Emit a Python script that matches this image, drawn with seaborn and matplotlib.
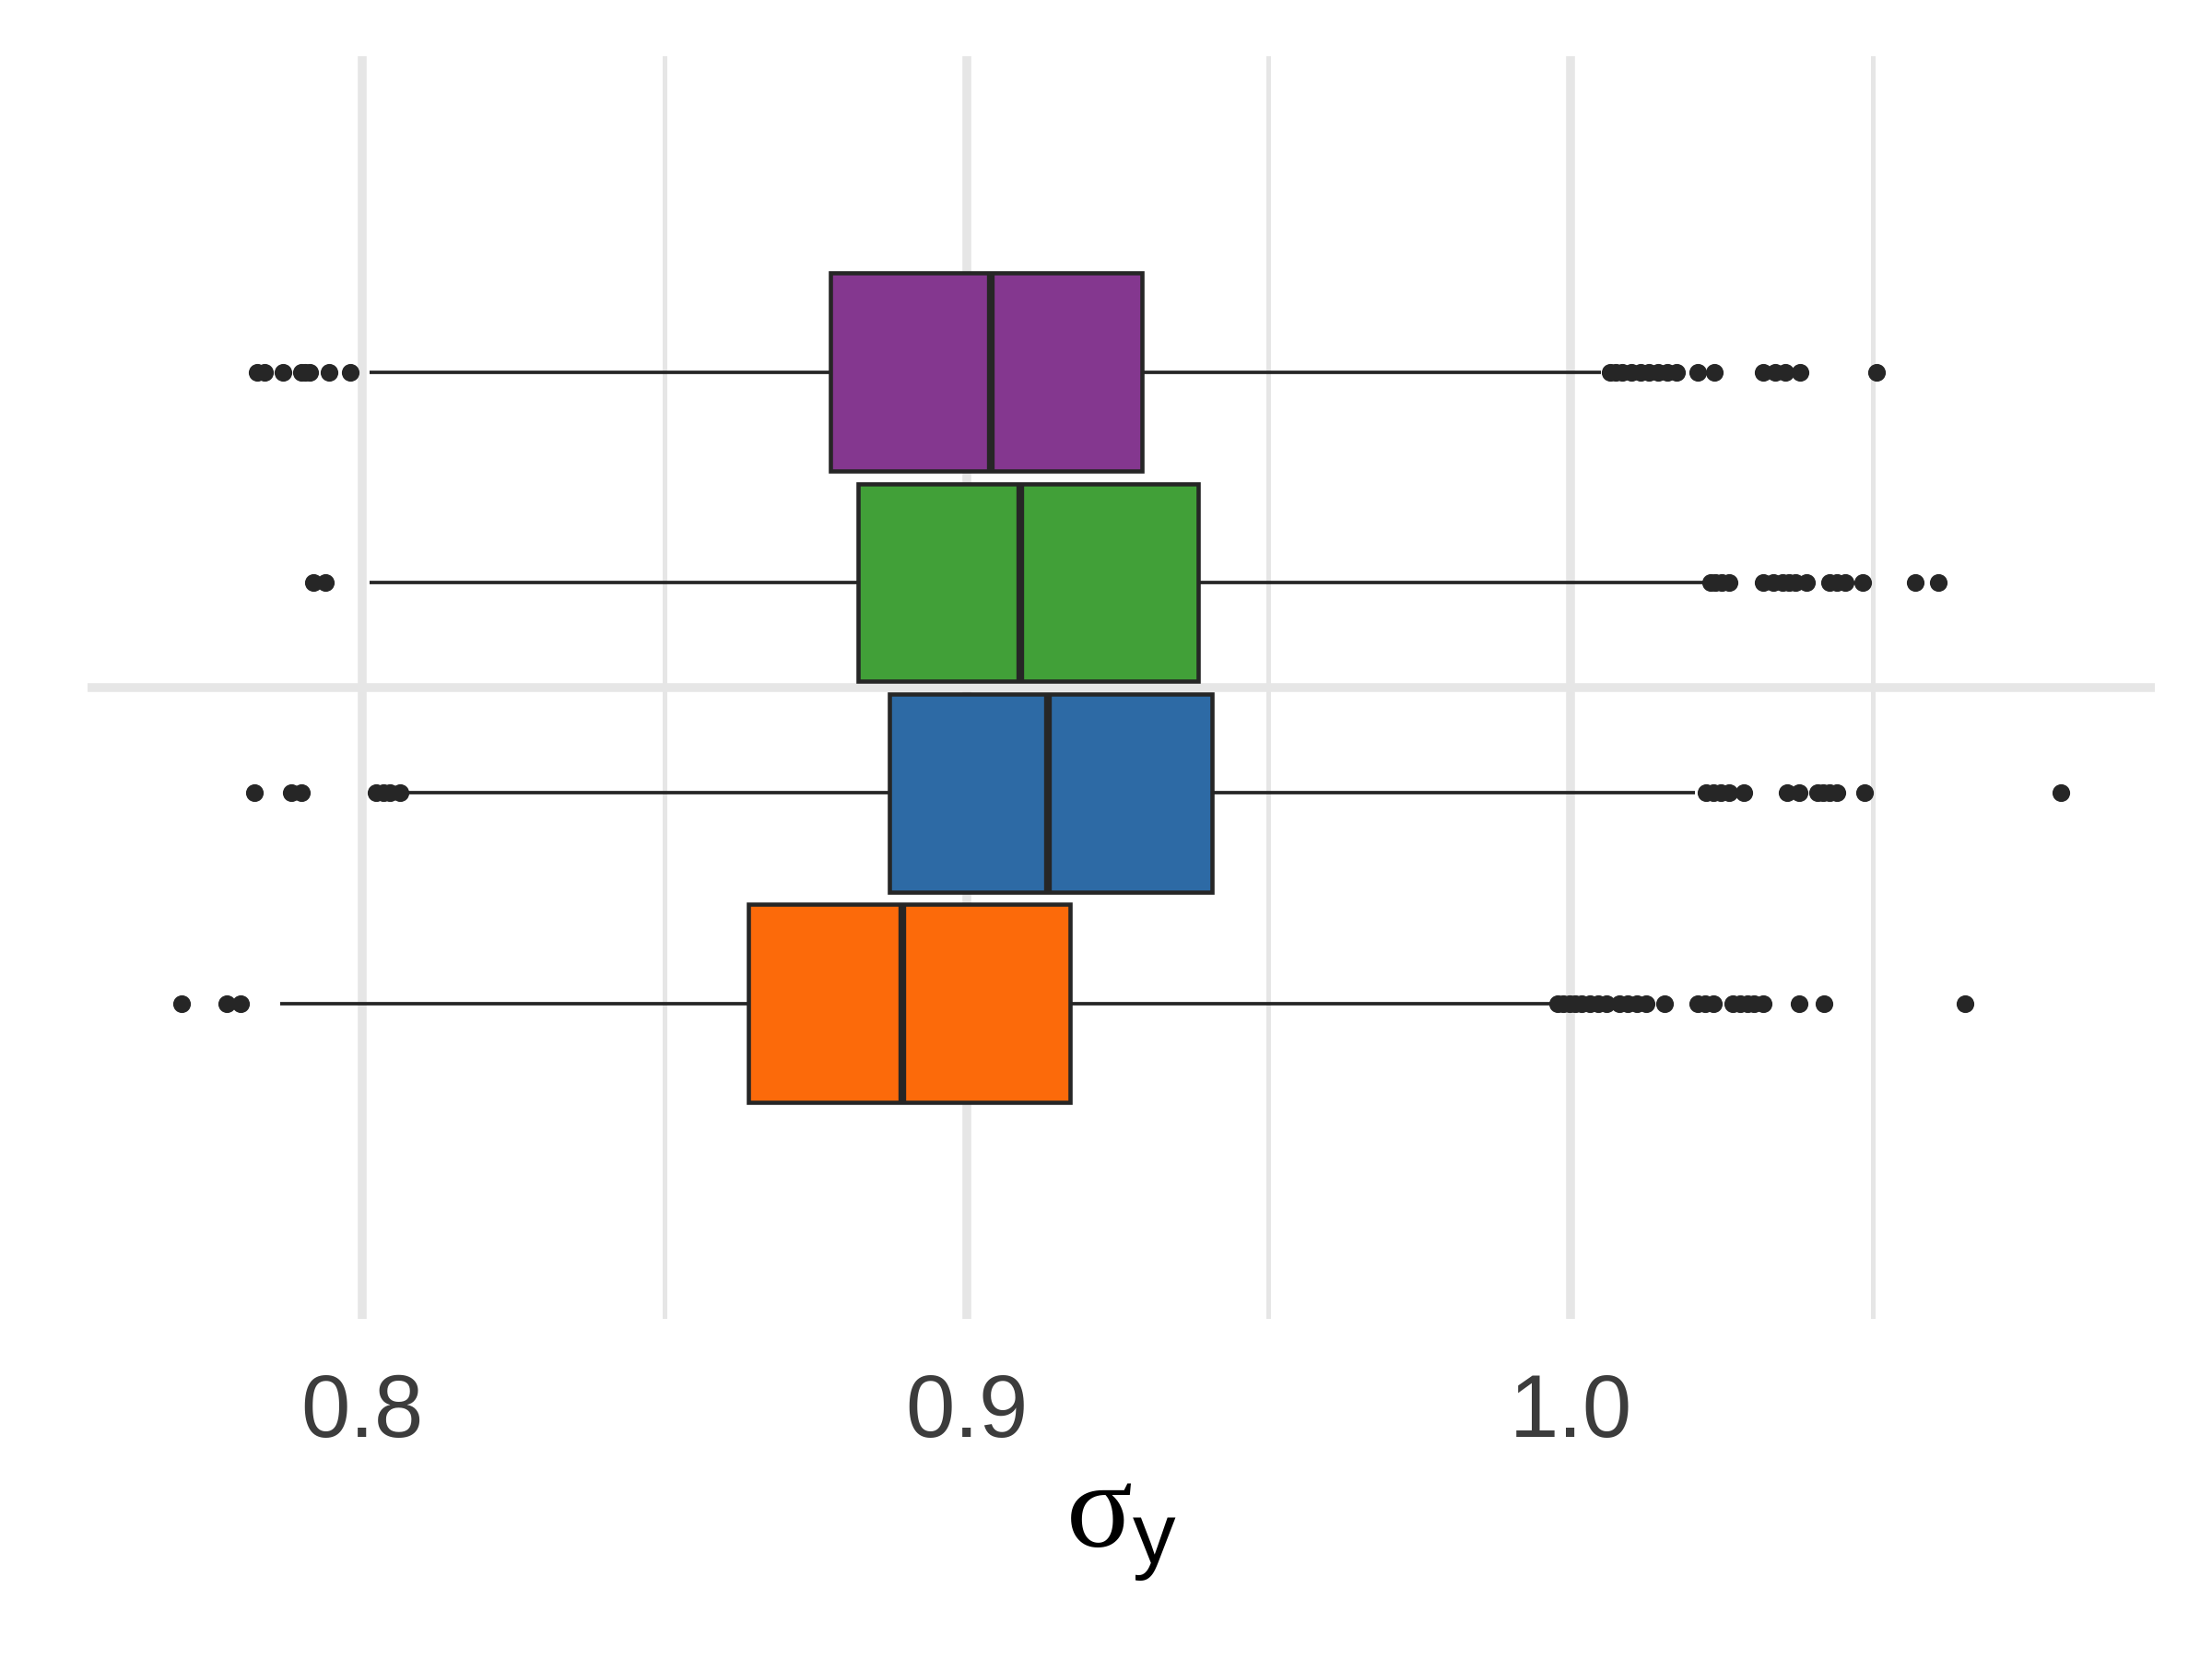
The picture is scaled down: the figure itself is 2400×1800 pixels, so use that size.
import numpy as np
import pandas as pd
import matplotlib
matplotlib.use("Agg")
import matplotlib.pyplot as plt
import seaborn as sns
from matplotlib.ticker import MultipleLocator

# Four runs, top to bottom
groups = ["run 1", "run 2", "run 3", "run 4"]
colors = ["#84378F", "#41A038", "#2D6AA5", "#FC6A0A"]

# Box statistics
q1 = [0.8775, 0.8821, 0.8872, 0.8639]
median = [0.9040, 0.9089, 0.9135, 0.8893]
q3 = [0.9290, 0.9384, 0.9407, 0.9172]
whisker_lo = [0.8012, 0.8012, 0.8075, 0.7863]
whisker_hi = [1.0050, 1.0219, 1.0206, 0.9966]

low_outliers = [
    [0.7825, 0.7838, 0.7868, 0.7898, 0.7905, 0.7912, 0.7945, 0.7980],
    [0.7919, 0.7939],
    [0.7821, 0.7882, 0.7899, 0.8023, 0.8035, 0.8045, 0.8062],
    [0.7700, 0.7775, 0.7798],
]
high_outliers = [
    [1.0065, 1.0075, 1.0085, 1.0100, 1.0115, 1.0130, 1.0145, 1.0160,
     1.0175, 1.0210, 1.0238, 1.0318, 1.0338, 1.0355, 1.0380, 1.0506],
    [1.0232, 1.0240, 1.0250, 1.0262, 1.0318, 1.0335, 1.0350, 1.0362,
     1.0372, 1.0390, 1.0428, 1.0440, 1.0455, 1.0484, 1.0570, 1.0608],
    [1.0224, 1.0236, 1.0248, 1.0262, 1.0286, 1.0358, 1.0378, 1.0408,
     1.0418, 1.0428, 1.0440, 1.0486, 1.0811],
    [0.9978, 0.9988, 0.9998, 1.0008, 1.0018, 1.0032, 1.0046, 1.0060,
     1.0080, 1.0095, 1.0110, 1.0125, 1.0156, 1.0210, 1.0222, 1.0236,
     1.0268, 1.0280, 1.0292, 1.0304, 1.0318, 1.0378, 1.0420, 1.0653],
]

# build a sample per run whose quartiles / whiskers / fliers match the stats
N_CORE = 60
rows = []
for i, g in enumerate(groups):
    vals = (low_outliers[i] + [whisker_lo[i]] + [q1[i]] * N_CORE + [median[i]] * N_CORE
            + [q3[i]] * N_CORE + [whisker_hi[i]] + high_outliers[i])
    for v in vals:
        rows.append({"panel": "all", "group": g, "value": v})
df = pd.DataFrame(rows)

sns.set_theme(style="white")
plt.rcParams["font.family"] = ["Liberation Sans", "DejaVu Sans"]
plt.rcParams["mathtext.fontset"] = "custom"
plt.rcParams["mathtext.rm"] = "Liberation Serif"
plt.rcParams["mathtext.sf"] = "Liberation Sans"
plt.rcParams["mathtext.it"] = "Liberation Serif:italic"

fig = plt.figure(figsize=(8, 6), dpi=300)
ax = fig.add_axes([0.0395, 0.205, 0.9345, 0.761])

dark = "#262626"
sns.boxplot(data=df, x="value", y="panel", hue="group", hue_order=groups,
            palette=colors, saturation=1, orient="h", width=0.8, gap=0.06,
            linecolor=dark, linewidth=1.1, showcaps=False, fliersize=3.6,
            flierprops=dict(marker="o", markerfacecolor=dark, markeredgecolor=dark),
            medianprops=dict(linewidth=2.0, color=dark),
            whiskerprops=dict(linewidth=0.9, color=dark),
            legend=False, ax=ax)

ax.set_ylim(0.6, -0.6)
ax.xaxis.set_major_locator(MultipleLocator(0.1))
ax.xaxis.set_minor_locator(MultipleLocator(0.05))
ax.set_axisbelow(True)
ax.grid(True, axis="x", which="major", color="#E6E6E6", linewidth=2.3)
ax.grid(True, axis="x", which="minor", color="#E6E6E6", linewidth=1.2)
ax.grid(True, axis="y", which="major", color="#E6E6E6", linewidth=2.3)
for s in ax.spines.values():
    s.set_visible(False)

ax.set_yticks([0])
ax.set_yticklabels([])
ax.set_ylabel("")
ax.tick_params(axis="y", length=0)
ax.tick_params(axis="x", which="both", length=0, pad=14, labelsize=23, labelcolor="#3C3C3C")
ax.set_xlabel(r"$\mathrm{\sigma}_\mathsf{y}$", fontsize=32, color="black", labelpad=3)

fig.savefig("out.png", dpi=300)
